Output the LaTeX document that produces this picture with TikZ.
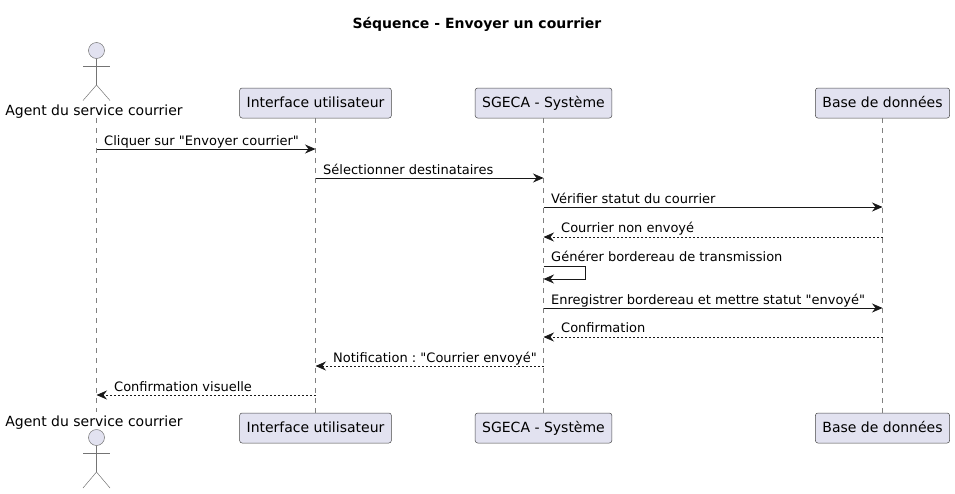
\documentclass[tikz,border=0pt]{standalone}
\usepackage{fontspec}
\setmainfont[Ligatures=TeXOff]{DejaVu Sans}
\usetikzlibrary{positioning,arrows.meta}
\definecolor{boxfill}{HTML}{E2E2F0}
\definecolor{boxline}{HTML}{181818}
\tikzstyle{pbox}=[rectangle, rounded corners=2.5pt, draw=boxline!80!white, fill=boxfill, line width=0.5pt,
                  minimum height=30pt, inner xsep=7pt, inner ysep=0pt, text=black,
                  text height=11pt, text depth=3pt, font=\fontsize{14}{16}\selectfont]
\tikzstyle{ahead}=[circle, draw=boxline!60!white, fill=boxfill, line width=0.5pt, minimum size=16pt, inner sep=0pt]
\tikzstyle{alabel}=[anchor=base, inner sep=0pt, font=\fontsize{14}{16}\selectfont]
\tikzstyle{aline}=[draw=boxline!60!white, line width=0.5pt]
\tikzstyle{lifeline}=[draw=boxline!55!white, line width=0.5pt, dash pattern=on 5pt off 5pt]
\tikzstyle{msg}=[draw=boxline, line width=0.75pt, -{Stealth[length=10.5pt,width=9pt,inset=3.5pt]}]
\tikzstyle{reply}=[msg, dash pattern=on 2pt off 2pt]
\tikzstyle{mtext}=[anchor=base west, inner sep=0pt, font=\fontsize{13}{15}\selectfont]
\begin{document}
\frenchspacing
\begin{tikzpicture}[x=1pt,y=-1pt]
\useasboundingbox (0,0) rectangle (955,493);

\node (TITLE) [anchor=base, inner sep=0pt, font=\fontsize{14}{16}\selectfont\bfseries] at (477,28) {Séquence - Envoyer un courrier};

% top row
\node (AGT) [ahead] at (96.5,50.5) {};
\node (AGTL) [alabel] at (94,115) {Agent du service courrier};
\node (UI) [pbox] at (315.5,103) {Interface utilisateur};
\node (SYS) [pbox] at (543.5,103) {SGECA - Système};
\node (DB) [pbox] at (882.5,103) {Base de données};

% bottom row
\node (AGTB) [ahead] at (96.5,437.5) {};
\node (AGTLB) [alabel] at (94,426) {Agent du service courrier};
\node (UIB) [pbox] at (315.5,428) {Interface utilisateur};
\node (SYSB) [pbox] at (543.5,428) {SGECA - Système};
\node (DBB) [pbox] at (882.5,428) {Base de données};

% actor figures
\coordinate (AGTHIP) at (96.5,85);
\coordinate (AGTHIPB) at (96.5,472);
\draw[aline] (AGT.south) -- (AGTHIP);
\draw[aline] (83,66) -- (110,66);
\draw[aline] (83,100.5) -- (AGTHIP) -- (110,100.5);
\draw[aline] (AGTB.south) -- (AGTHIPB);
\draw[aline] (83,453) -- (110,453);
\draw[aline] (83,488) -- (AGTHIPB) -- (110,488);

% lifelines
\coordinate (AGTS) at (96.5,118);
\coordinate (AGTE) at (96.5,412);
\draw[lifeline] (AGTS) -- (AGTE);
\draw[lifeline] (UI.south) -- (UIB.north);
\draw[lifeline] (SYS.south) -- (SYSB.north);
\draw[lifeline] (DB.south) -- (DBB.north);

% messages
\draw[msg] (AGTS |- 0,149) -- (UI.south |- 0,149);
\node (M1) [mtext] at (104,145) {Cliquer sur "Envoyer courrier"};
\draw[msg] (UI.south |- 0,178) -- (SYS.south |- 0,178);
\node (M2) [mtext] at (323,174) {Sélectionner destinataires};
\draw[msg] (SYS.south |- 0,207) -- (DB.south |- 0,207);
\node (M3) [mtext] at (551,203) {Vérifier statut du courrier};
\draw[reply] (DB.south |- 0,237) -- (SYS.south |- 0,237);
\node (M4) [mtext] at (561,232.5) {Courrier non envoyé};
\draw[msg] (SYS.south |- 0,266) -| (585.5,279) -- (SYS.south |- 0,279);
\node (M5) [mtext] at (551,261.5) {Générer bordereau de transmission};
\draw[msg] (SYS.south |- 0,308) -- (DB.south |- 0,308);
\node (M6) [mtext] at (551,304) {Enregistrer bordereau et mettre statut "envoyé"};
\draw[reply] (DB.south |- 0,337) -- (SYS.south |- 0,337);
\node (M7) [mtext] at (561,332.5) {Confirmation};
\draw[reply] (SYS.south |- 0,366) -- (UI.south |- 0,366);
\node (M8) [mtext] at (333,362) {Notification : "Courrier envoyé"};
\draw[reply] (UI.south |- 0,395) -- (AGTS |- 0,395);
\node (M9) [mtext] at (114,391) {Confirmation visuelle};

\end{tikzpicture}
\end{document}
